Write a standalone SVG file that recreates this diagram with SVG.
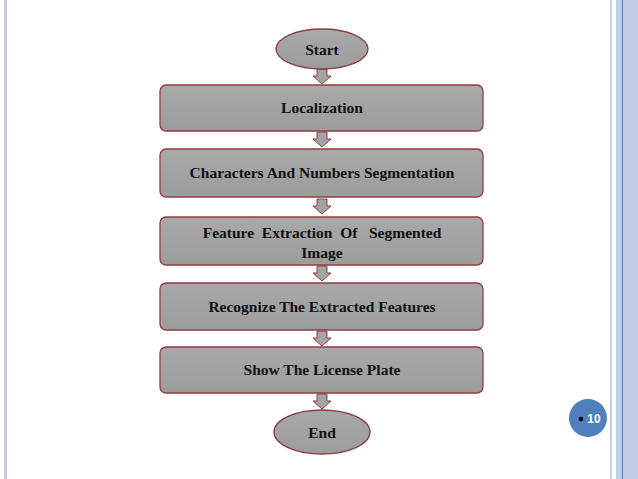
<svg xmlns="http://www.w3.org/2000/svg" width="638" height="479" viewBox="0 0 638 479">
<defs>
<linearGradient id="g" x1="0" y1="0" x2="0" y2="1"><stop offset="0" stop-color="#a9a9a9"/><stop offset="1" stop-color="#9c9c9c"/></linearGradient>
<path id="arr" d="M-5,0 H5 V7 H9 L0,15 L-9,7 H-5 Z"/>
</defs>
<style>
.box{fill:url(#g);stroke:#8e3e3e;stroke-width:1.3}
.t{font-family:"Liberation Serif",serif;font-weight:bold;font-size:15.5px;fill:#111;text-anchor:middle}
.a{fill:#a3a3a3;stroke:#8e3e3e;stroke-width:1}
</style>
<rect width="638" height="479" fill="#fff"/>
<rect x="4" y="0" width="3" height="479" fill="#c5cde0"/>
<rect x="610" y="0" width="2" height="479" fill="#c5cde0"/>
<rect x="616" y="0" width="22" height="479" fill="#c2cde6"/>
<rect x="622" y="0" width="1" height="479" fill="#5b7cb4"/>
<g id="connectors">
<use href="#arr" class="a" x="322" y="69"/>
<use href="#arr" class="a" x="322" y="132"/>
<use href="#arr" class="a" x="322" y="199"/>
<use href="#arr" class="a" x="322" y="266"/>
<use href="#arr" class="a" x="322" y="331"/>
<use href="#arr" class="a" x="322" y="394"/>
</g>
<g id="start"><ellipse class="box" cx="322" cy="49" rx="46" ry="20"/><text class="t" x="322" y="55">Start</text></g>
<g id="n1"><rect class="box" x="160" y="85" width="323" height="46" rx="6"/><text class="t" x="322" y="113">Localization</text></g>
<g id="n2"><rect class="box" x="160" y="149" width="323" height="48" rx="6"/><text class="t" x="322" y="178">Characters And Numbers Segmentation</text></g>
<g id="n3"><rect class="box" x="160" y="217" width="323" height="48" rx="6"/><text class="t" x="322" y="238" xml:space="preserve">Feature  Extraction  Of   Segmented</text><text class="t" x="322" y="258">Image</text></g>
<g id="n4"><rect class="box" x="160" y="283" width="323" height="47" rx="6"/><text class="t" x="322" y="312">Recognize The Extracted Features</text></g>
<g id="n5"><rect class="box" x="160" y="347" width="323" height="46" rx="6"/><text class="t" x="322" y="375">Show The License Plate</text></g>
<g id="end"><ellipse class="box" cx="322" cy="432" rx="48" ry="22"/><text class="t" x="322" y="438">End</text></g>
<g id="page"><circle cx="588" cy="418" r="19" fill="#4f7fbd"/><circle cx="581" cy="419" r="2.3" fill="#000"/><text x="594" y="423" font-family="Liberation Sans,sans-serif" font-weight="bold" font-size="12" fill="#fff" text-anchor="middle">10</text></g>
</svg>
